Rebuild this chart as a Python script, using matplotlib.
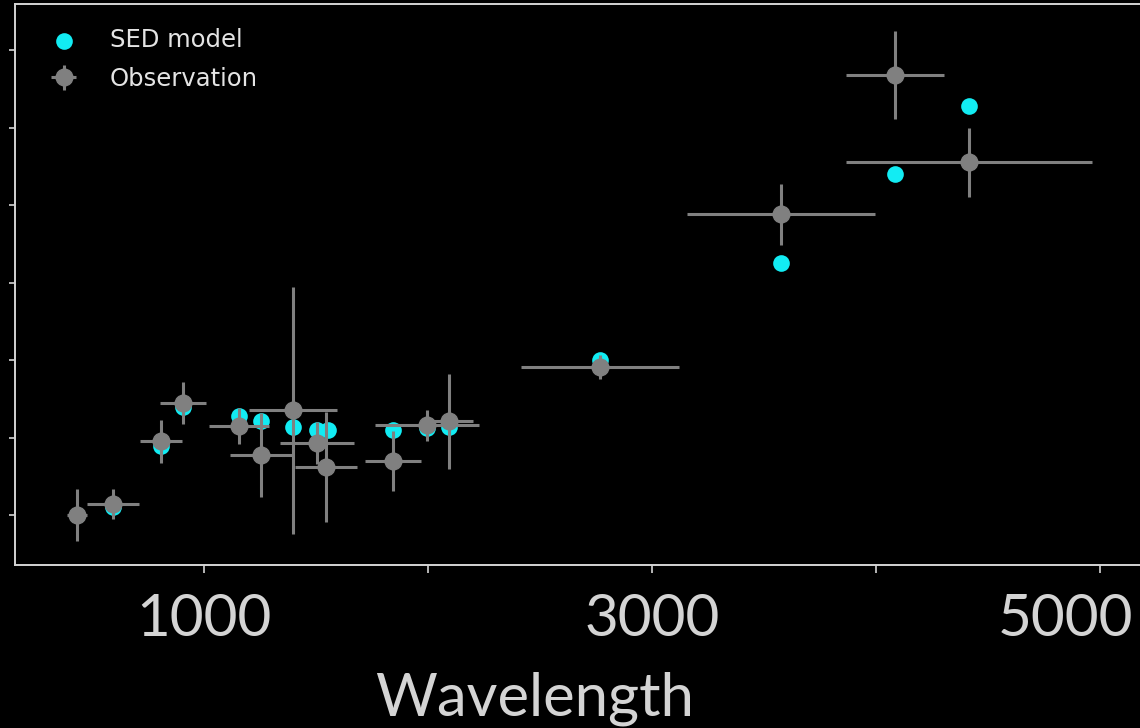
import matplotlib
matplotlib.use("Agg")
import matplotlib.pyplot as plt
from matplotlib.transforms import ScaledTranslation

# Observed photometry (wavelength, flux, errors) and model fluxes
wavelength = [433, 594, 808, 906, 1156, 1254, 1397, 1504, 1545, 1844, 1996, 2094, 2768, 3576, 4085, 4415]
obs_flux =   [0.00, 0.14, 0.95, 1.45, 1.15, 0.77, 1.35, 0.93, 0.62, 0.70, 1.16, 1.21, 1.91, 3.88, 5.68, 4.55]
obs_xerr =   [45, 116, 94, 103, 134, 138, 196, 165, 138, 125, 232, 107, 353, 420, 219, 549]
obs_yerr =   [0.34, 0.19, 0.28, 0.27, 0.23, 0.54, 1.59, 0.27, 0.71, 0.39, 0.20, 0.61, 0.15, 0.39, 0.57, 0.45]
model_wavelength = [433, 594, 808, 906, 1156, 1254, 1397, 1504, 1554, 1844, 1996, 2094, 2768, 3576, 4085, 4415]
model_flux = [0.00, 0.10, 0.89, 1.39, 1.28, 1.21, 1.14, 1.10, 1.10, 1.10, 1.12, 1.14, 2.00, 3.25, 4.40, 5.28]

x_ticks = [1000, 2000, 3000, 4000, 5000]
x_tick_labels = ["1000", "", "3000", "", "5000"]
y_ticks = [0, 1, 2, 3, 4, 5, 6]

fg = "#d4d4d4"
fig = plt.figure(figsize=(11.4, 7.28), dpi=100, facecolor="black")
ax = fig.add_axes([15 / 1140, 163 / 728, 1128 / 1140, 561 / 728], facecolor="black")

ax.scatter(model_wavelength, model_flux, s=12 ** 2, color="#12ecf3", zorder=2,
           label="SED model", linewidths=0)
ax.errorbar(wavelength, obs_flux, xerr=obs_xerr, yerr=obs_yerr, fmt="o",
            color="#808080", ms=12, elinewidth=2.2, capsize=0, zorder=3,
            label="Observation")

ax.set_xlim(156, 5192)
ax.set_ylim(-0.645, 6.594)
ax.set_xticks(x_ticks)
ax.set_xticklabels(x_tick_labels, fontfamily="Lato", fontweight="normal",
                   fontsize=42, color=fg)
ax.set_yticks(y_ticks)
ax.set_yticklabels([])

for side in ["left", "bottom", "top", "right"]:
    ax.spines[side].set_color(fg)
    ax.spines[side].set_linewidth(1.4)

ax.tick_params(axis="x", direction="out", length=6, width=1.2, color=fg, pad=14)
ax.tick_params(axis="y", direction="out", length=4, width=1.2, color=fg)

# keep the last tick label inside the figure
last = ax.get_xticklabels()[-1]
last.set_transform(last.get_transform() + ScaledTranslation(-0.35, 0, fig.dpi_scale_trans))

ax.set_xlabel("Wavelength", fontfamily="Lato", fontweight="normal",
              fontsize=43, color=fg)
ax.xaxis.set_label_coords(0.461, -0.19)

leg = ax.legend(loc="upper left", frameon=False, fontsize=17.5,
                labelcolor="#e4e4e4", handletextpad=0.9,
                borderaxespad=0.6, labelspacing=0.6,
                bbox_to_anchor=(0.0, 1.0))

fig.savefig("out.png", dpi=100, facecolor="black")
